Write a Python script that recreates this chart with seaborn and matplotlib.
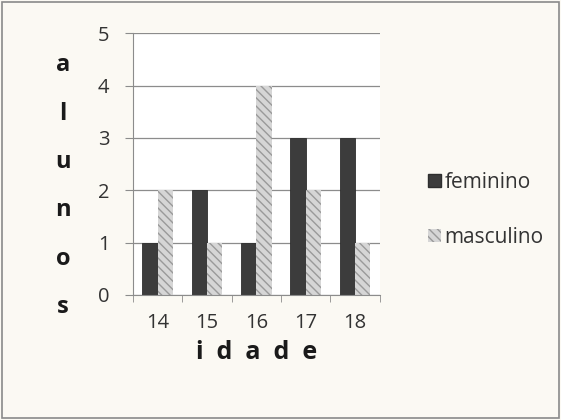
import pandas as pd
import matplotlib.pyplot as plt
import seaborn as sns
from matplotlib.patches import Rectangle
from matplotlib.ticker import MultipleLocator

idades = ['14', '15', '16', '17', '18']
feminino = [1, 2, 1, 3, 3]
masculino = [2, 1, 4, 2, 1]
grupos = ['feminino', 'masculino']


def main():
    df = pd.DataFrame({
        'idade': idades * 2,
        'alunos': feminino + masculino,
        'sexo': ['feminino'] * len(idades) + ['masculino'] * len(idades),
    })

    sns.set_style('white')
    plt.rcParams['font.family'] = ['Open Sans', 'DejaVu Sans']

    fig = plt.figure(figsize=(5.61, 4.2), dpi=100)
    fig.patch.set_facecolor('#fbf9f3')
    ax = fig.add_axes([0.237, 0.298, 0.44, 0.623])
    ax.set_facecolor('white')

    sns.barplot(data=df, x='idade', y='alunos', hue='sexo', hue_order=grupos,
                palette=['#3c3c3c', '#d6d6d6'], width=0.62, saturation=1,
                ax=ax, legend=False)

    n = len(idades)
    for i, bar in enumerate(ax.patches[:2 * n]):
        if i < n:
            bar.set_edgecolor('#2e2e2e')
            bar.set_linewidth(0.6)
        else:
            bar.set_hatch('\\\\\\\\')
            bar.set_edgecolor('#9a9a9a')
            bar.set_linewidth(0)

    ax.set_ylim(0, 5)
    ax.set_xlim(-0.5, n - 0.5)
    ax.yaxis.set_major_locator(MultipleLocator(1))
    ax.grid(axis='y', color='#8c8c8c', linewidth=0.9)
    ax.set_axisbelow(True)
    for s in ['top', 'right']:
        ax.spines[s].set_visible(False)
    ax.spines['left'].set_color('#8c8c8c')
    ax.spines['bottom'].set_color('#8c8c8c')

    ax.set_xticks([x - 0.5 for x in range(n + 1)], minor=True)
    ax.tick_params(axis='x', which='major', length=0, pad=13, labelsize=14.5,
                   labelcolor='#333333')
    ax.tick_params(axis='x', which='minor', length=5, color='#8c8c8c',
                   direction='out', bottom=True)
    ax.tick_params(axis='y', length=6, color='#8c8c8c', left=True,
                   labelsize=14.5, labelcolor='#333333', pad=11)

    ax.set_xlabel('i  d  a  d  e', fontsize=18, fontweight='bold', labelpad=5,
                  color='#1a1a1a')
    ax.set_ylabel('')
    fig.text(0.112, 0.557, 'a\nl\nu\nn\no\ns', fontsize=17, fontweight='bold',
             ha='center', va='center', linespacing=2.35, color='#1a1a1a')

    handles = [Rectangle((0, 0), 1, 1, facecolor='#3c3c3c', edgecolor='#2e2e2e'),
               Rectangle((0, 0), 1, 1, facecolor='#d6d6d6', hatch='\\\\\\\\',
                         edgecolor='#9a9a9a', linewidth=0)]
    fig.legend(handles, grupos, loc='center left', bbox_to_anchor=(0.763, 0.5),
               frameon=False, fontsize=15, handlelength=0.6, handleheight=0.6,
               handletextpad=0.2, labelspacing=1.65, labelcolor='#333333',
               borderpad=0, borderaxespad=0)

    fig.patches.append(Rectangle((0.004, 0.004), 0.992, 0.992, transform=fig.transFigure,
                                 fill=False, edgecolor='#8a8a8a', linewidth=1.2))

    fig.savefig('out.png', dpi=100, facecolor=fig.get_facecolor())


if __name__ == '__main__':
    main()
